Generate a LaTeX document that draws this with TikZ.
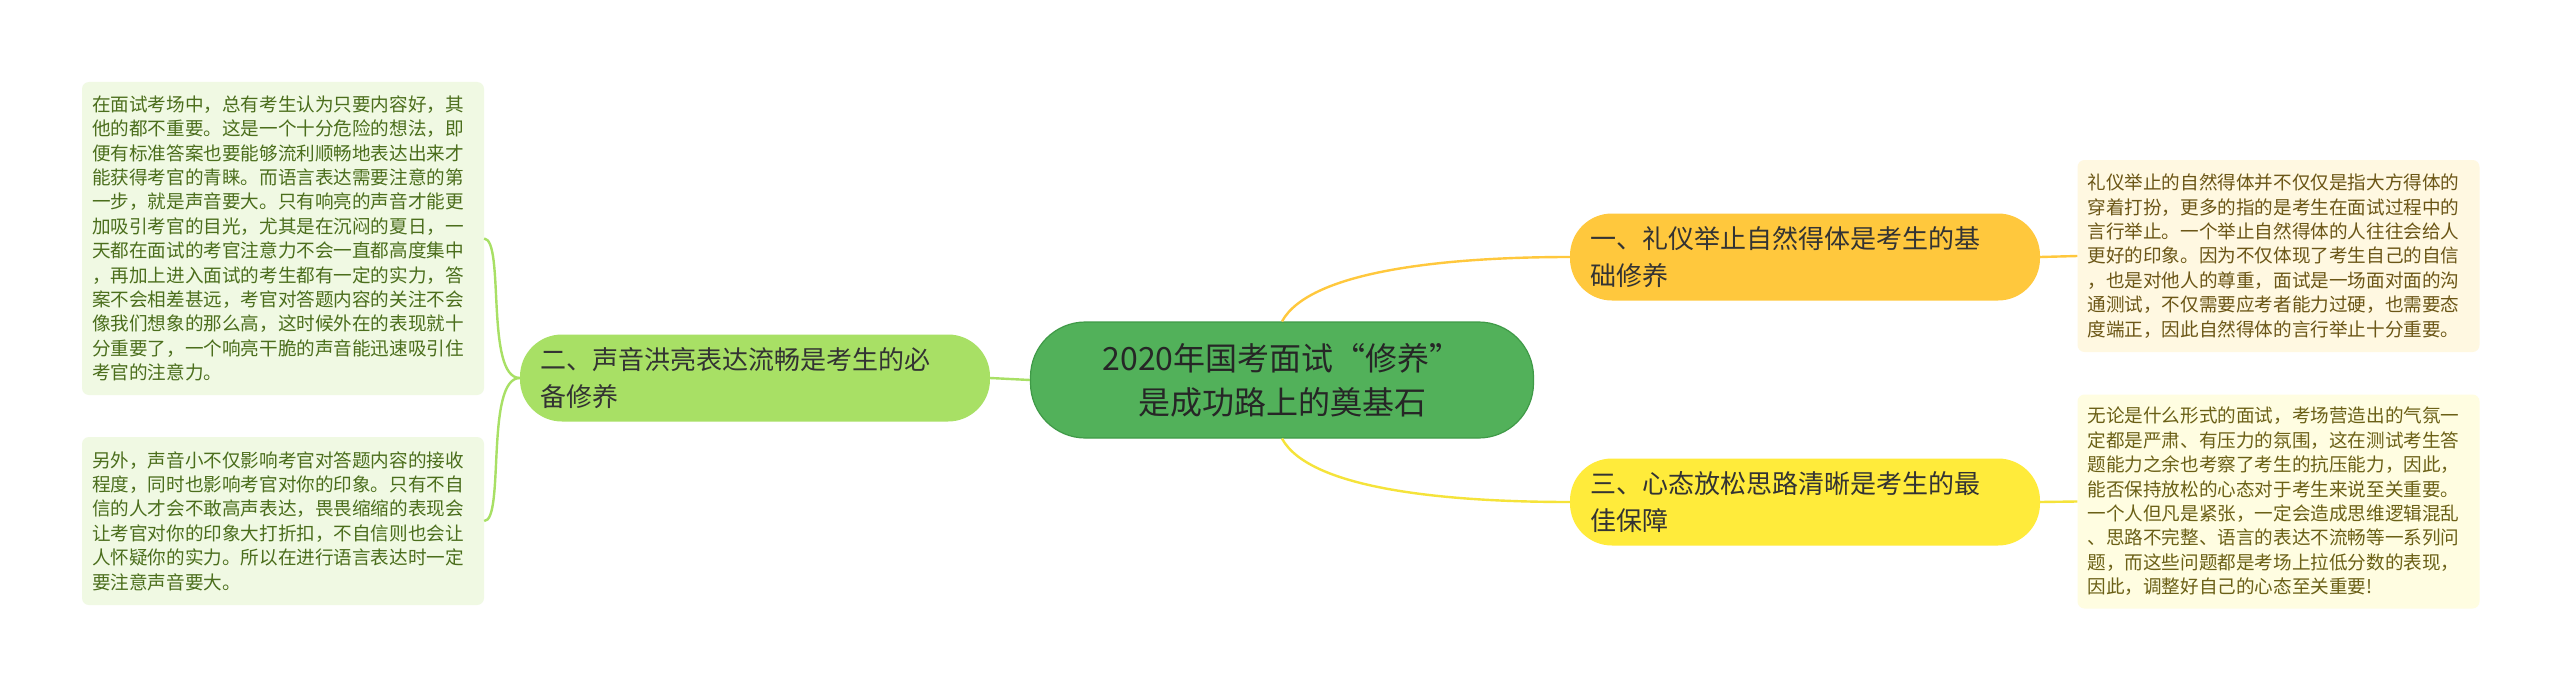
\documentclass[tikz,border=0pt]{standalone}
\usepackage{fontspec}
\setmainfont{Noto Sans CJK SC}
\definecolor{cgreen}{HTML}{52B15A}
\definecolor{cgreenD}{HTML}{3F9A47}
\definecolor{lgreen}{HTML}{A8E065}
\definecolor{corange}{HTML}{FFC83D}
\definecolor{cyellow}{HTML}{FFEB3B}
\definecolor{leafG}{HTML}{F0F9E3}
\definecolor{leafO}{HTML}{FFF8E1}
\definecolor{leafY}{HTML}{FFFDE1}
\definecolor{txtG}{HTML}{4B6E1C}
\definecolor{txtO}{HTML}{6B5616}
\definecolor{txtY}{HTML}{6B6016}
\definecolor{lnG}{HTML}{A8E065}
\definecolor{lnO}{HTML}{FFC83D}
\definecolor{lnY}{HTML}{F5E33A}
\tikzset{
  branch/.style={rounded corners=42pt,minimum width=470pt,minimum height=87pt,align=left,text width=430pt,inner xsep=20pt,font=\fontsize{26}{37}\selectfont,text=black!80},
  leaf/.style={rounded corners=7pt,minimum width=402pt,text width=382pt,align=left,inner xsep=10pt,inner ysep=8pt,font=\fontsize{18.6}{24.4}\selectfont},
  conn/.style={line width=2.4pt}
}
\begin{document}
\begin{tikzpicture}[x=1pt,y=-1pt]
\useasboundingbox[fill=white] (0,0) rectangle (2560,693);
\node[rounded corners=55pt,fill=cgreen,draw=cgreenD,line width=1.2pt,minimum width=503pt,minimum height=116pt,align=center,font=\fontsize{32}{44}\selectfont,text=black!85] (c) at (1282,380) {2020年国考面试“修养”\\是成功路上的奠基石};
\node[branch,fill=lgreen] (b2) at (755,378) {二、声音洪亮表达流畅是考生的必\\备修养};
\node[branch,fill=corange] (b1) at (1805,257) {一、礼仪举止自然得体是考生的基\\础修养};
\node[branch,fill=cyellow] (b3) at (1805,502) {三、心态放松思路清晰是考生的最\\佳保障};
\node[leaf,fill=leafG,text=txtG,minimum height=313pt] (l1) at (283,238.5) {在面试考场中，总有考生认为只要内容好，其\\他的都不重要。这是一个十分危险的想法，即\\便有标准答案也要能够流利顺畅地表达出来才\\能获得考官的青睐。而语言表达需要注意的第\\一步，就是声音要大。只有响亮的声音才能更\\加吸引考官的目光，尤其是在沉闷的夏日，一\\天都在面试的考官注意力不会一直都高度集中\\，再加上进入面试的考生都有一定的实力，答\\案不会相差甚远，考官对答题内容的关注不会\\像我们想象的那么高，这时候外在的表现就十\\分重要了，一个响亮干脆的声音能迅速吸引住\\考官的注意力。};
\node[leaf,fill=leafG,text=txtG,minimum height=168pt] (l2) at (283,521) {另外，声音小不仅影响考官对答题内容的接收\\程度，同时也影响考官对你的印象。只有不自\\信的人才会不敢高声表达，畏畏缩缩的表现会\\让考官对你的印象大打折扣，不自信则也会让\\人怀疑你的实力。所以在进行语言表达时一定\\要注意声音要大。};
\node[leaf,fill=leafO,text=txtO,minimum height=192pt] (r1) at (2278.5,256) {礼仪举止的自然得体并不仅仅是指大方得体的\\穿着打扮，更多的指的是考生在面试过程中的\\言行举止。一个举止自然得体的人往往会给人\\更好的印象。因为不仅体现了考生自己的自信\\，也是对他人的尊重，面试是一场面对面的沟\\通测试，不仅需要应考者能力过硬，也需要态\\度端正，因此自然得体的言行举止十分重要。};
\node[leaf,fill=leafY,text=txtY,minimum height=214pt] (r2) at (2278.5,501.5) {无论是什么形式的面试，考场营造出的气氛一\\定都是严肃、有压力的氛围，这在测试考生答\\题能力之余也考察了考生的抗压能力，因此，\\能否保持放松的心态对于考生来说至关重要。\\一个人但凡是紧张，一定会造成思维逻辑混乱\\、思路不完整、语言的表达不流畅等一系列问\\题，而这些问题都是考场上拉低分数的表现，\\因此，调整好自己的心态至关重要!};
\draw[conn,lnG] (c.west) -- (b2.east);
\draw[conn,lnO] (c.north) .. controls (1310,270) and (1450,257) .. (b1.west);
\draw[conn,lnY] (c.south) .. controls (1310,490) and (1450,502) .. (b3.west);
\draw[conn,lnG] (b2.west) .. controls (485,378) and (505,240) .. (l1.east);
\draw[conn,lnG] (b2.west) .. controls (485,378) and (505,521) .. (l2.east);
\draw[conn,lnO] (b1.east) -- (r1.west);
\draw[conn,lnY] (b3.east) -- (r2.west);
\end{tikzpicture}
\end{document}
